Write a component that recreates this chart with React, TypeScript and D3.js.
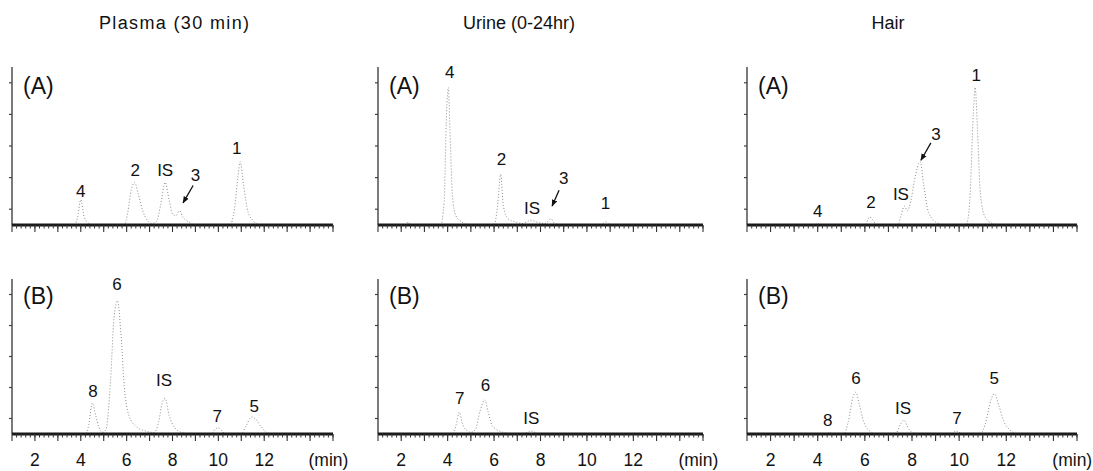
import React from 'react';
import * as d3 from 'd3';

// traces: [time (min), signal (% of axis height)]
const plasmaA: [number, number][] = [
  [1.1, 0], [3.7, 0], [3.85, 4], [4.0, 16], [4.15, 5], [4.35, 1], [4.6, 0], [5.9, 0], [6.05, 8], [6.2, 22],
  [6.35, 27], [6.5, 20], [6.7, 9], [6.9, 3], [7.1, 1], [7.3, 2], [7.5, 14], [7.68, 27], [7.85, 16], [8.0, 7],
  [8.15, 6], [8.3, 9], [8.45, 5], [8.7, 2], [9.0, 0], [10.5, 0], [10.7, 10], [10.85, 30], [10.95, 40],
  [11.1, 25], [11.3, 8], [11.5, 3], [11.8, 0], [15, 0],
];
const urineA: [number, number][] = [
  [1.0, 0], [2.2, 0], [2.3, 2], [2.4, 0], [3.7, 0], [3.85, 15], [3.95, 70], [4.03, 87], [4.1, 60], [4.2, 20],
  [4.35, 6], [4.6, 2], [5.0, 0], [6.0, 0], [6.15, 12], [6.28, 32], [6.4, 12], [6.6, 4], [6.9, 2], [7.2, 1],
  [7.6, 3], [7.8, 2], [8.2, 1], [8.45, 4], [8.6, 1], [9, 0], [10.6, 0], [10.8, 2], [11, 0], [15, 0],
];
const hairA: [number, number][] = [
  [1.0, 0], [3.9, 0], [4.0, 1], [4.1, 0], [6.0, 0], [6.2, 5], [6.35, 3], [6.5, 0], [7.4, 0], [7.55, 7],
  [7.68, 12], [7.8, 9], [7.95, 15], [8.1, 28], [8.35, 40], [8.5, 25], [8.7, 8], [9.0, 2], [9.4, 0],
  [10.3, 0], [10.45, 15], [10.6, 70], [10.68, 87], [10.78, 60], [10.9, 20], [11.1, 5], [11.4, 1], [11.7, 0], [15, 0],
];
const plasmaB: [number, number][] = [
  [1.1, 0], [4.2, 0], [4.35, 6], [4.5, 20], [4.65, 12], [4.8, 4], [4.95, 1], [5.1, 3], [5.3, 35], [5.45, 75],
  [5.6, 86], [5.75, 65], [5.9, 30], [6.1, 12], [6.4, 5], [6.8, 2], [7.2, 1], [7.4, 8], [7.55, 20], [7.68, 23],
  [7.85, 12], [8.1, 4], [8.4, 1], [8.8, 0], [9.7, 0], [9.85, 3], [10.0, 4], [10.15, 2], [10.3, 0], [11.0, 0],
  [11.2, 5], [11.45, 11], [11.6, 10], [11.85, 5], [12.1, 1], [12.4, 0], [15, 0],
];
const urineB: [number, number][] = [
  [1.0, 0], [4.2, 0], [4.35, 5], [4.5, 14], [4.65, 6], [4.85, 2], [5.0, 1], [5.2, 3], [5.4, 15], [5.6, 22],
  [5.75, 14], [5.9, 6], [6.1, 3], [6.4, 1], [7.0, 0], [7.45, 1], [7.6, 2], [7.75, 1], [8.0, 0], [15, 0],
];
const hairB: [number, number][] = [
  [1.0, 0], [4.4, 0], [4.5, 1], [4.6, 0], [5.1, 0], [5.3, 8], [5.5, 24], [5.62, 27], [5.75, 20], [5.95, 8],
  [6.2, 2], [6.5, 0], [7.3, 0], [7.5, 6], [7.66, 9], [7.8, 5], [8.0, 1], [8.2, 0], [9.7, 0], [9.85, 2],
  [10.0, 1], [10.2, 0], [10.9, 0], [11.1, 6], [11.35, 22], [11.5, 26], [11.65, 20], [11.9, 8], [12.2, 2], [12.5, 0], [15, 0],
];

// peak labels: [text, time, signal at text baseline]
const plasmaALabels: [string, number, number][] = [['4', 4.0, 18], ['2', 6.37, 31], ['IS', 7.68, 31], ['3', 9.0, 28], ['1', 10.8, 45]];
const urineALabels: [string, number, number][] = [['4', 4.09, 93], ['2', 6.32, 38], ['IS', 7.64, 7], ['3', 9.0, 26], ['1', 10.8, 10]];
const hairALabels: [string, number, number][] = [['4', 4.0, 5], ['2', 6.26, 11], ['IS', 7.53, 16], ['3', 9.02, 54], ['1', 10.72, 91]];
const plasmaBLabels: [string, number, number][] = [['8', 4.53, 24], ['6', 5.58, 93], ['IS', 7.63, 31], ['7', 9.95, 8], ['5', 11.56, 14.5]];
const urineBLabels: [string, number, number][] = [['7', 4.52, 19.5], ['6', 5.63, 28], ['IS', 7.6, 6.5]];
const hairBLabels: [string, number, number][] = [['8', 4.43, 5], ['6', 5.62, 32], ['IS', 7.62, 13], ['7', 9.91, 6.6], ['5', 11.49, 32]];

// arrows pointing at peak 3: [t0, v0, t1, v1]
const plasmaAArrow = [8.9, 25, 8.46, 14];
const urineAArrow = [8.8, 22, 8.5, 12];
const hairAArrow = [8.8, 52, 8.38, 41];

const titles = ['Plasma (30 min)', 'Urine (0-24hr)', 'Hair'];
const tickValues = [2, 4, 6, 8, 10, 12];
const yTicks = [10, 30, 50, 70, 90];

const W = 1093;
const H = 471;
const FONT = "'Liberation Sans', Arial, Helvetica, sans-serif";

const cols = [
  { x0: 12, x1: 333, titleX: 174, titleLen: 150 },
  { x0: 378, x1: 703, titleX: 519, titleLen: 0 },
  { x0: 747, x1: 1077, titleX: 888, titleLen: 0 },
];
const rows = [
  { top: 67, base: 225, tag: '(A)', tagY: 94, ticks: false },
  { top: 279, base: 434, tag: '(B)', tagY: 304, ticks: true },
];

const panels = [
  { col: 0, row: 0, trace: plasmaA, labels: plasmaALabels, arrow: plasmaAArrow },
  { col: 1, row: 0, trace: urineA, labels: urineALabels, arrow: urineAArrow },
  { col: 2, row: 0, trace: hairA, labels: hairALabels, arrow: hairAArrow },
  { col: 0, row: 1, trace: plasmaB, labels: plasmaBLabels, arrow: null },
  { col: 1, row: 1, trace: urineB, labels: urineBLabels, arrow: null },
  { col: 2, row: 1, trace: hairB, labels: hairBLabels, arrow: null },
];

const Panel = ({ p }: { p: any }) => {
  const c = cols[p.col];
  const r = rows[p.row];
  const x = d3.scaleLinear().domain([1, 15]).range([c.x0, c.x1]);
  const y = d3.scaleLinear().domain([0, 100]).range([r.base, r.top]);
  const line = d3.line<[number, number]>()
    .x(d => x(d[0]))
    .y(d => y(d[1]))
    .curve(d3.curveMonotoneX);
  const minor = d3.range(1.2, 15.01, 0.2);
  const major = d3.range(1, 16, 1);

  return (
    <g>
      {/* y axis */}
      <line x1={c.x0} x2={c.x0} y1={r.top} y2={r.base} stroke="#333" strokeWidth={1.3} />
      {yTicks.map(v => (
        <line key={v} x1={c.x0 - 3} x2={c.x0} y1={y(v)} y2={y(v)} stroke="#444" strokeWidth={1.2} />
      ))}
      {/* trace */}
      <path d={line(p.trace) || ''} fill="none" stroke="#8c8c8c" strokeWidth={1} strokeDasharray="1 2" />
      {/* thick baseline and ticks */}
      <line x1={c.x0} x2={c.x1} y1={r.base} y2={r.base} stroke="#1a1a1a" strokeWidth={3.2} />
      {minor.map(t => (
        <line key={'m' + t} x1={x(t)} x2={x(t)} y1={r.base} y2={r.base + 3.5} stroke="#333" strokeWidth={1} />
      ))}
      {major.map(t => (
        <line key={'M' + t} x1={x(t)} x2={x(t)} y1={r.base} y2={r.base + 7} stroke="#333" strokeWidth={1.1} />
      ))}
      {r.ticks && tickValues.map(t => (
        <text key={'t' + t} x={x(t)} y={466} textAnchor="middle" fontSize={17.5} fill="#111">{t}</text>
      ))}
      {r.ticks && (
        <text x={x(14.8)} y={466} textAnchor="middle" fontSize={17.5} fill="#111">(min)</text>
      )}
      <text x={c.x0 + 11} y={r.tagY} fontSize={23} fill="#111">{r.tag}</text>
      {p.labels.map(([s, t, v]: [string, number, number]) => (
        <text key={s} x={x(t)} y={y(v)} textAnchor="middle" fontSize={17} fill="#111">{s}</text>
      ))}
      {p.arrow && (
        <line
          x1={x(p.arrow[0])} y1={y(p.arrow[1])} x2={x(p.arrow[2])} y2={y(p.arrow[3])}
          stroke="#111" strokeWidth={1.3} markerEnd="url(#arrow)"
        />
      )}
    </g>
  );
};

export default function App() {
  return (
    <svg width={W} height={H} style={{ position: 'absolute', left: 0, top: 0, background: '#fff' }} fontFamily={FONT}>
      <defs>
        <marker id="arrow" viewBox="0 0 10 10" refX="9" refY="5" markerWidth="7" markerHeight="7" orient="auto" markerUnits="userSpaceOnUse">
          <path d="M0,1 L10,5 L0,9 z" fill="#111" />
        </marker>
      </defs>
      <rect width={W} height={H} fill="#fff" />
      {titles.map((t, i) => (
        <text
          key={t} x={cols[i].titleX} y={29} textAnchor="middle" fontSize={18} fill="#111"
          {...(cols[i].titleLen ? { textLength: cols[i].titleLen, lengthAdjust: 'spacing' } : {})}
        >{t}</text>
      ))}
      {panels.map((p, i) => <Panel key={i} p={p} />)}
    </svg>
  );
}
